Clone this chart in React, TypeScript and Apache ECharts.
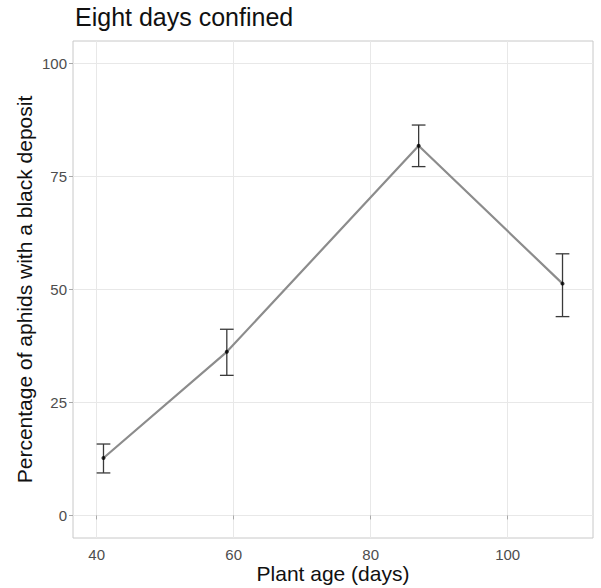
import React, { useEffect, useRef } from "react";
import * as echarts from "echarts";

const plantAge = [41, 59, 87, 108];
const meanPct = [12.7, 36.2, 81.8, 51.3];
const lowerPct = [9.4, 31.0, 77.2, 44.0];
const upperPct = [15.8, 41.2, 86.4, 57.9];
const xTicks = [40, 60, 80, 100];
const yTicks = [0, 25, 50, 75, 100];
const capHalfWidth = 1;

const FONT = "Liberation Sans, Arial, sans-serif";

export default function App() {
  const ref = useRef<HTMLDivElement>(null);
  useEffect(() => {
    if (!ref.current) return;
    const chart = echarts.init(ref.current, undefined, { renderer: "svg" });
    const points = plantAge.map((x, i) => [x, meanPct[i]]);
    const bars = plantAge.map((x, i) => [x, meanPct[i], lowerPct[i], upperPct[i]]);
    chart.setOption({
      animation: false,
      backgroundColor: "#ffffff",
      textStyle: { fontFamily: FONT },
      title: {
        text: "Eight days confined",
        left: 75,
        top: 4,
        padding: 0,
        textStyle: { fontFamily: FONT, fontSize: 25, fontWeight: "normal", color: "#111" },
      },
      grid: {
        left: 73,
        right: 8,
        top: 41,
        bottom: 50,
        containLabel: false,
        outerBoundsMode: "none",
        show: true,
        borderColor: "#c8c8c8",
        borderWidth: 1,
        backgroundColor: "transparent",
      },
      xAxis: {
        type: "value",
        min: 36.55,
        max: 112.45,
        minInterval: 20,
        maxInterval: 20,
        name: "Plant age (days)",
        nameLocation: "middle",
        nameGap: 25,
        nameMoveOverlap: false,
        nameTextStyle: { fontFamily: FONT, fontSize: 21, lineHeight: 21, color: "#111" },
        axisLine: { show: false },
        axisTick: { show: true, length: 4, lineStyle: { color: "#a8a8a8" }, customValues: xTicks },
        axisLabel: {
          margin: 9,
          fontSize: 15,
          lineHeight: 15,
          color: "#4d4d4d",
          fontFamily: FONT,
          customValues: xTicks,
          formatter: (v: number) => (xTicks.includes(Math.round(v * 1000) / 1000) ? String(v) : ""),
        },
        splitLine: { show: true, lineStyle: { color: "#e8e8e8", width: 1 } },
      },
      yAxis: {
        type: "value",
        min: -5,
        max: 105,
        minInterval: 25,
        maxInterval: 25,
        name: "Percentage of aphids with a black deposit",
        nameLocation: "middle",
        nameGap: 38,
        nameMoveOverlap: false,
        nameTextStyle: { fontFamily: FONT, fontSize: 21, color: "#111" },
        axisLine: { show: false },
        axisTick: { show: true, length: 4, lineStyle: { color: "#a8a8a8" }, customValues: yTicks },
        axisLabel: {
          margin: 6,
          fontSize: 15,
          color: "#4d4d4d",
          fontFamily: FONT,
          customValues: yTicks,
          formatter: (v: number) => (yTicks.includes(Math.round(v * 1000) / 1000) ? String(v) : ""),
        },
        splitLine: { show: true, lineStyle: { color: "#e8e8e8", width: 1 } },
      },
      series: [
        {
          type: "line",
          data: points,
          symbol: "none",
          lineStyle: { color: "#8c8c8c", width: 2.2 },
          z: 2,
        },
        {
          type: "custom",
          data: bars,
          z: 3,
          renderItem: (params: any, api: any) => {
            const x = api.value(0);
            const lo = api.value(2);
            const hi = api.value(3);
            const top = api.coord([x, hi]);
            const bot = api.coord([x, lo]);
            const tl = api.coord([x - capHalfWidth, hi]);
            const tr = api.coord([x + capHalfWidth, hi]);
            const bl = api.coord([x - capHalfWidth, lo]);
            const br = api.coord([x + capHalfWidth, lo]);
            const style = { stroke: "#3a3a3a", lineWidth: 1.3 };
            return {
              type: "group",
              children: [
                { type: "line", shape: { x1: top[0], y1: top[1], x2: bot[0], y2: bot[1] }, style },
                { type: "line", shape: { x1: tl[0], y1: tl[1], x2: tr[0], y2: tr[1] }, style },
                { type: "line", shape: { x1: bl[0], y1: bl[1], x2: br[0], y2: br[1] }, style },
              ],
            };
          },
        },
        {
          type: "scatter",
          data: points,
          symbol: "circle",
          symbolSize: 4,
          itemStyle: { color: "#000" },
          z: 4,
        },
      ],
    });
    return () => chart.dispose();
  }, []);
  return (
    <div
      ref={ref}
      style={{ position: "fixed", left: 0, top: 0, width: 601, height: 588 }}
    />
  );
}
